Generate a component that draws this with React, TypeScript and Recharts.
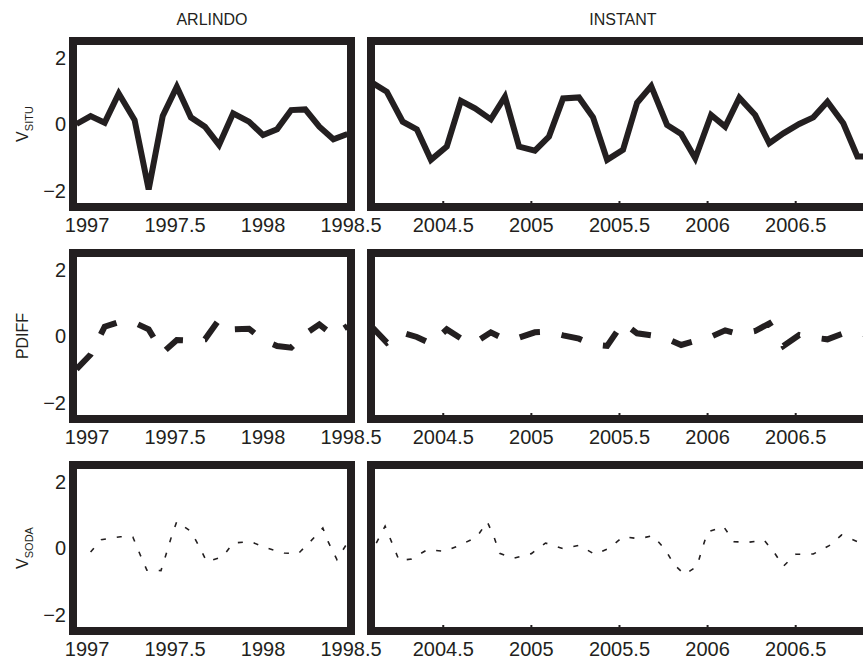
import { LineChart, Line, XAxis, YAxis, ReferenceArea } from 'recharts';

const INK = '#231f20';
const FONT = '"Liberation Sans", Arial, Helvetica, sans-serif';

// monthly samples, ARLINDO mooring
const arlindoTime = [
  1996.94, 1997.02, 1997.1, 1997.18, 1997.27, 1997.35, 1997.43, 1997.51, 1997.59, 1997.67,
  1997.75, 1997.83, 1997.92, 1998.0, 1998.08, 1998.16, 1998.24, 1998.32, 1998.4, 1998.48,
];
const arlindoSitu = [
  0.0, 0.24, 0.04, 0.92, 0.12, -1.97, 0.24, 1.12, 0.2, -0.08,
  -0.63, 0.32, 0.07, -0.33, -0.16, 0.42, 0.44, -0.08, -0.46, -0.3,
];
const arlindoPdiff = [
  -1.0, -0.56, 0.28, 0.42, 0.4, 0.2, -0.5, -0.12, -0.14, -0.1,
  0.49, 0.2, 0.22, -0.12, -0.3, -0.35, 0.06, 0.35, 0.02, 0.3,
];
const arlindoSodaTime = [
  1997.02, 1997.08, 1997.19, 1997.26, 1997.3, 1997.34, 1997.42, 1997.45, 1997.48, 1997.51,
  1997.59, 1997.64, 1997.68, 1997.77, 1997.83, 1997.93, 1998.02, 1998.12, 1998.2, 1998.27,
  1998.34, 1998.37, 1998.42, 1998.48,
];
const arlindoSoda = [
  -0.12, 0.25, 0.34, 0.33, -0.18, -0.67, -0.68, -0.17, 0.35, 0.8,
  0.5, 0.02, -0.41, -0.27, 0.15, 0.19, 0.0, -0.15, -0.17, 0.2,
  0.6, 0.19, -0.35, 0.16,
];

// monthly samples, INSTANT
const instantTime = [
  2004.1, 2004.18, 2004.27, 2004.35, 2004.43, 2004.52, 2004.6, 2004.68, 2004.77, 2004.85,
  2004.93, 2005.02, 2005.1, 2005.18, 2005.27, 2005.35, 2005.43, 2005.52, 2005.6, 2005.68,
  2005.77, 2005.85, 2005.93, 2006.02, 2006.1, 2006.18, 2006.27, 2006.35, 2006.43, 2006.52,
  2006.6, 2006.68, 2006.77, 2006.85, 2006.93,
];
const instantSitu = [
  1.23, 0.97, 0.07, -0.16, -1.08, -0.68, 0.7, 0.47, 0.14, 0.82,
  -0.68, -0.8, -0.38, 0.77, 0.8, 0.2, -1.08, -0.78, 0.64, 1.14,
  -0.03, -0.3, -1.03, 0.27, -0.08, 0.79, 0.27, -0.58, -0.28, 0.0,
  0.2, 0.67, 0.02, -0.98, -0.98,
];
const instantPdiff = [
  0.25, -0.2, 0.1, -0.03, -0.23, 0.2, -0.07, -0.2, 0.11, -0.1,
  -0.05, 0.11, 0.13, 0.02, -0.08, -0.26, -0.3, 0.4, 0.08, 0.02,
  -0.08, -0.27, -0.15, -0.02, 0.17, 0.05, 0.15, 0.38, -0.3, 0.03,
  -0.05, -0.1, 0.08, 0.1, 0.0,
];
const instantSodaTime = [
  2004.12, 2004.17, 2004.21, 2004.25, 2004.32, 2004.41, 2004.51, 2004.6, 2004.69, 2004.75,
  2004.79, 2004.82, 2004.9, 2005.0, 2005.08, 2005.18, 2005.27, 2005.36, 2005.44, 2005.52,
  2005.61, 2005.69, 2005.76, 2005.81, 2005.87, 2005.94, 2005.97, 2006.0, 2006.09, 2006.15,
  2006.23, 2006.32, 2006.38, 2006.43, 2006.5, 2006.6, 2006.69, 2006.76, 2006.85, 2006.93,
];
const instantSoda = [
  0.15, 0.66, 0.14, -0.38, -0.33, -0.05, -0.1, 0.1, 0.33, 0.79,
  0.3, -0.16, -0.31, -0.17, 0.15, -0.02, 0.08, -0.19, -0.01, 0.34,
  0.28, 0.37, -0.05, -0.5, -0.8, -0.55, -0.01, 0.48, 0.65, 0.19,
  0.17, 0.24, -0.15, -0.55, -0.19, -0.18, 0.07, 0.39, 0.19, 0.1,
];

const arlindoTicks = [1997, 1997.5, 1998, 1998.5];
const instantTicks = [2004.5, 2005, 2005.5, 2006, 2006.5];
const valueTicks = [-2, 0, 2];

const ARLINDO_DOMAIN: [number, number] = [1996.92, 1998.5];
const INSTANT_DOMAIN: [number, number] = [2004.09, 2006.95];
const VALUE_DOMAIN: [number, number] = [-2.5, 2.5];

const CHART_W = 900;
const CHART_H = 659;
const PANEL_H = 166;
const ROW_TOP = [41, 253, 465];
const LEFT_COL = { left: 73, right: 351 };
const RIGHT_COL = { left: 371, right: 875 };

const toRows = (t: number[], v: number[]) => t.map((x, i) => ({ t: x, v: v[i] }));

const lineStyles = [
  { strokeWidth: 6, dash: undefined },
  { strokeWidth: 6, dash: '21 22' },
  { strokeWidth: 1.6, dash: '5 11' },
];

const rowLabels = [
  { main: 'V', sub: 'SITU' },
  { main: 'PDIFF', sub: '' },
  { main: 'V', sub: 'SODA' },
];

const fmtValue = (v: number) => (v < 0 ? '\u2212' + Math.abs(v) : String(v));
const blank = () => '';

function sideLabel(row: number) {
  const { main, sub } = rowLabels[row];
  const x = 28;
  const cy = ROW_TOP[row] + PANEL_H / 2;
  return () => (
    <text
      x={x}
      y={cy}
      transform={`rotate(-90 ${x} ${cy})`}
      textAnchor="middle"
      fill={INK}
      fontSize={16}
      fontFamily={FONT}
    >
      {main}
      {sub ? (
        <tspan dy={5} fontSize={11}>
          {sub}
        </tspan>
      ) : null}
    </text>
  );
}

interface PanelProps {
  row: number;
  data: { t: number; v: number }[];
  domain: [number, number];
  ticks: number[];
  col: { left: number; right: number };
  showValueAxis: boolean;
  title?: string;
}

function Panel({ row, data, domain, ticks, col, showValueAxis, title }: PanelProps) {
  const top = ROW_TOP[row];
  const bottom = top + PANEL_H;
  const yw = showValueAxis ? 60 : 0;
  const style = lineStyles[row];
  // the right-hand panels carry short inward tick marks
  const inward = !showValueAxis;
  const tickStroke = { stroke: INK, strokeWidth: 2 };
  return (
    <div style={{ position: 'absolute', left: 0, top: 0 }}>
      <LineChart
        width={CHART_W}
        height={CHART_H}
        data={data}
        margin={{ top, left: col.left - yw, right: CHART_W - col.right, bottom: CHART_H - bottom - 20 }}
      >
        <XAxis
          dataKey="t"
          type="number"
          domain={domain}
          ticks={ticks}
          allowDataOverflow
          interval={0}
          axisLine={false}
          tickLine={inward ? tickStroke : false}
          tickSize={inward ? -6 : 0}
          tickMargin={inward ? 17 : 11}
          height={20}
          tick={{ fontSize: 20, fill: INK, fontFamily: FONT }}
        />
        {inward && (
          <XAxis
            xAxisId="top"
            orientation="top"
            dataKey="t"
            type="number"
            domain={domain}
            ticks={ticks}
            allowDataOverflow
            interval={0}
            axisLine={false}
            tickLine={tickStroke}
            tickSize={-6}
            tickFormatter={blank}
            height={0}
          />
        )}
        <YAxis
          type="number"
          domain={VALUE_DOMAIN}
          ticks={valueTicks}
          allowDataOverflow
          width={yw}
          axisLine={false}
          tickLine={inward ? tickStroke : false}
          tickSize={inward ? -6 : 0}
          tickMargin={7}
          tickFormatter={inward ? blank : fmtValue}
          tick={{ fontSize: 20, fill: INK, fontFamily: FONT }}
          label={showValueAxis ? { content: sideLabel(row) } : undefined}
        />
        <Line
          type="linear"
          dataKey="v"
          stroke={INK}
          strokeWidth={style.strokeWidth}
          strokeDasharray={style.dash}
          dot={false}
          activeDot={false}
          isAnimationActive={false}
        />
        <ReferenceArea
          x1={domain[0]}
          x2={domain[1]}
          y1={VALUE_DOMAIN[0]}
          y2={VALUE_DOMAIN[1]}
          fill="none"
          fillOpacity={0}
          stroke={INK}
          strokeWidth={8}
          ifOverflow="visible"
          zIndex={1000}
          label={title ? { value: title, position: 'top', offset: 16, fill: INK, fontSize: 16, fontFamily: FONT } : undefined}
        />
      </LineChart>
    </div>
  );
}

export default function App() {
  const arlindo = [toRows(arlindoTime, arlindoSitu), toRows(arlindoTime, arlindoPdiff), toRows(arlindoSodaTime, arlindoSoda)];
  const instant = [toRows(instantTime, instantSitu), toRows(instantTime, instantPdiff), toRows(instantSodaTime, instantSoda)];
  return (
    <div
      style={{
        position: 'fixed',
        left: 0,
        top: 0,
        width: 863,
        height: 659,
        overflow: 'hidden',
        background: '#fff',
        fontFamily: FONT,
      }}
    >
      {[0, 1, 2].map((row) => (
        <Panel
          key={'a' + row}
          row={row}
          data={arlindo[row]}
          domain={ARLINDO_DOMAIN}
          ticks={arlindoTicks}
          col={LEFT_COL}
          showValueAxis
          title={row === 0 ? 'ARLINDO' : undefined}
        />
      ))}
      {[0, 1, 2].map((row) => (
        <Panel
          key={'i' + row}
          row={row}
          data={instant[row]}
          domain={INSTANT_DOMAIN}
          ticks={instantTicks}
          col={RIGHT_COL}
          showValueAxis={false}
          title={row === 0 ? 'INSTANT' : undefined}
        />
      ))}
    </div>
  );
}
